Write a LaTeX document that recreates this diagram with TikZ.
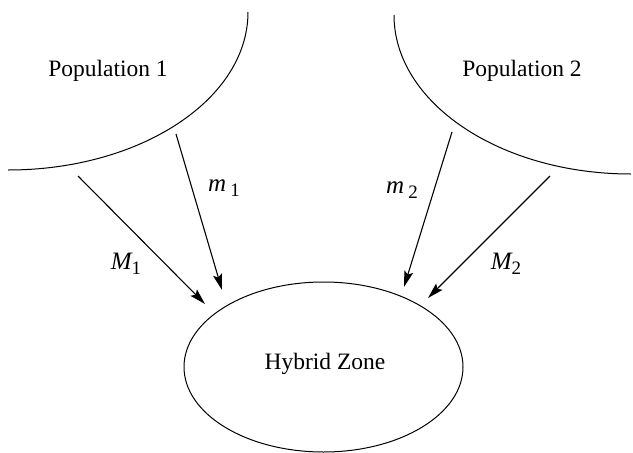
\documentclass[tikz,border=0pt]{standalone}
\usepackage{fontspec}
\setmainfont{Liberation Serif}
\usetikzlibrary{arrows.meta,shapes.geometric}
\newcommand{\subsc}[1]{\raisebox{-5pt}{\upshape\fontsize{19}{22}\selectfont #1}}
\begin{document}
\begin{tikzpicture}[x=1pt,y=-1pt,
  lbl/.style={font=\fontsize{23.5}{26}\selectfont, inner sep=0pt},
  sym/.style={font=\fontsize{25}{28}\selectfont\itshape, inner sep=0pt},
  flow/.style={line width=1.1pt, -{Stealth[length=16pt,width=9pt,inset=3pt]}},
  edge/.style={line width=1pt}]
\useasboundingbox (0,0) rectangle (633,453);
% population boundaries
\draw[edge] (8,170) arc[start angle=90, end angle=0, x radius=240, y radius=158];
\draw[edge] (394,15) arc[start angle=180, end angle=90, x radius=237, y radius=159];
% nodes
\node[lbl] (p1) at (108,71) {Population 1};
\node[lbl] (p2) at (522,71) {Population 2};
\node[draw, ellipse, line width=1pt, minimum width=279pt, minimum height=170pt, inner sep=0pt] (hz) at (323.5,367) {};
\node[lbl] (hzt) at (325,364) {Hybrid Zone};
% start and end coordinates
\coordinate (sM1) at (78,176);
\coordinate (sm1) at (176,134);
\coordinate (sm2) at (452,132);
\coordinate (sM2) at (550,176);
\coordinate (tM1) at (205,304);
\coordinate (tm1) at (222,290);
\coordinate (tm2) at (404,287);
\coordinate (tM2) at (428,298);
\draw[flow] (sM1) -- (tM1);
\draw[flow] (sm1) -- (tm1);
\draw[flow] (sm2) -- (tm2);
\draw[flow] (sM2) -- (tM2);
% labels
\node[sym] (lM1) at (126,264) {M\subsc{1}};
\node[sym] (lm1) at (224,188) {m\,\subsc{1}};
\node[sym] (lm2) at (402,190) {m\,\subsc{2}};
\node[sym] (lM2) at (506,264) {M\subsc{2}};
\end{tikzpicture}
\end{document}
